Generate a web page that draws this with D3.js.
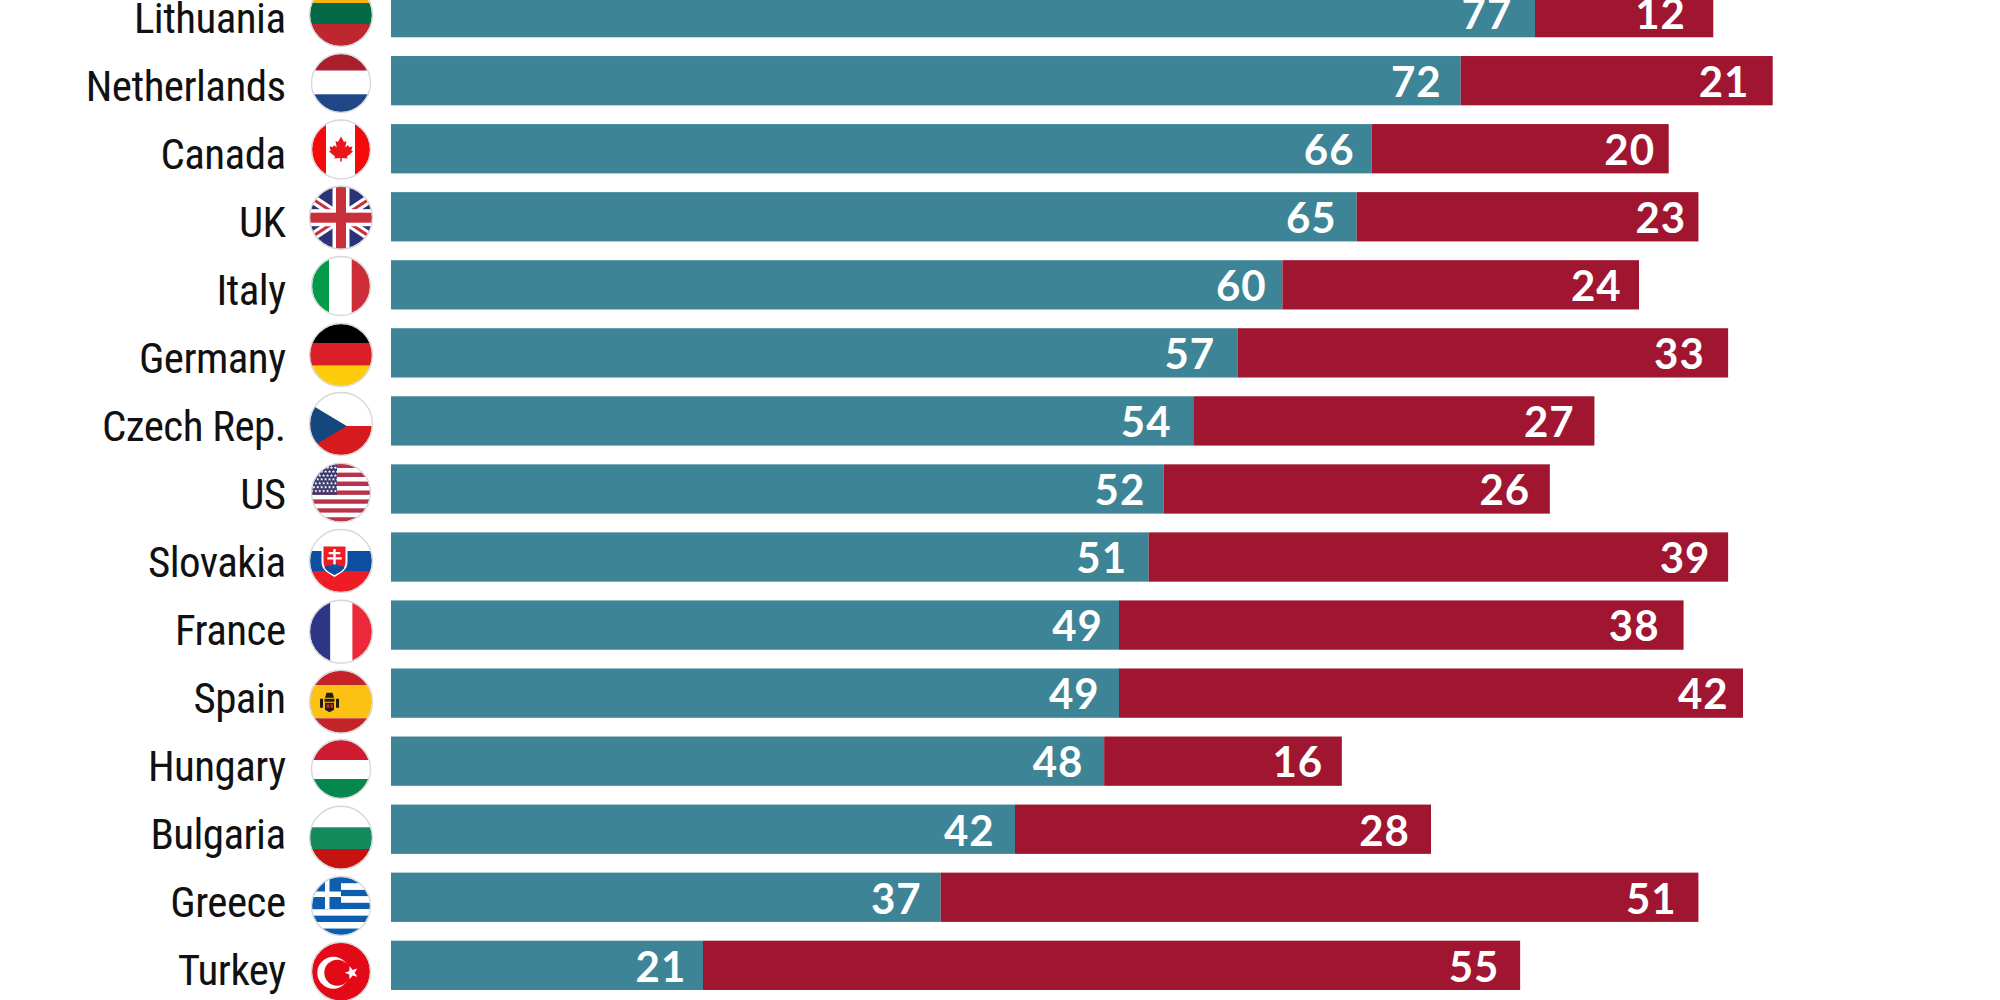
<!DOCTYPE html>
<html><head><meta charset="utf-8">
<style>
html,body{margin:0;padding:0;background:#fff;overflow:hidden}
svg{display:block}
.cat text{font-family:"Liberation Sans Narrow","Roboto Condensed","Liberation Sans",sans-serif;font-size:43px;fill:#111;letter-spacing:-0.55px}
.val{font-family:Lato,sans-serif;font-weight:700;font-size:42px;letter-spacing:1px;fill:#fff;text-anchor:end}
</style>
<script src="https://cdn.jsdelivr.net/npm/d3@7"></script>
</head><body><svg id="c" width="2000" height="1000"></svg>
<script>
// ---- data ----
const categories = ["Lithuania","Netherlands","Canada","UK","Italy","Germany","Czech Rep.","US","Slovakia","France","Spain","Hungary","Bulgaria","Greece","Turkey"];
const favourable = [77,72,66,65,60,57,54,52,51,49,49,48,42,37,21];
const unfavourable = [12,21,20,23,24,33,27,26,39,38,42,16,28,51,55];
const seriesKeys = ["favourable","unfavourable"];
const seriesColours = ["#3D8596","#A01631"];

// ---- layout ----
const svg = d3.select("#c");
const rows = categories.map((c,i)=>({country:c,favourable:favourable[i],unfavourable:unfavourable[i]}));
const x = d3.scaleLinear().domain([0,100]).range([391,391+1485.7]);
const y = d3.scaleBand().domain(categories).range([-21.4,-21.4+15*68.05]).paddingInner(0.2755).paddingOuter(0.1378);
const colour = d3.scaleOrdinal(seriesKeys,seriesColours);
const stacked = d3.stack().keys(seriesKeys)(rows);

// hand-placed label insets: gap between each value label and the end of its segment
const labelInsets = {
  favourable:[23.7,20,18,21,16.7,23.7,22.7,19.3,22.7,17,20.3,21.7,21.3,20,17.7],
  unfavourable:[28.3,24.3,14.7,13.3,18.3,24.3,20.7,20.7,18.7,25,15.3,19.7,22,22.7,21.7]
};
const glyphBearing = 1;

const groups = svg.selectAll("g.series").data(stacked).join("g").attr("class","series").attr("fill",d=>colour(d.key));
groups.selectAll("rect").data(d=>d).join("rect")
  .attr("x",d=>x(d[0])).attr("width",d=>x(d[1])-x(d[0]))
  .attr("y",d=>y(d.data.country)).attr("height",y.bandwidth());
groups.each(function(s){
  d3.select(this).selectAll("text").data(s).join("text").attr("class","val")
    .attr("x",(d,i)=>x(d[1])-labelInsets[s.key][i]+glyphBearing)
    .attr("y",d=>y(d.data.country)+y.bandwidth()/2+16.3)
    .text(d=>d[1]-d[0]);
});

// category labels through a D3 axis
const axis = d3.axisLeft(y).tickSize(0).tickPadding(0);
const ax = svg.append("g").attr("class","cat").attr("transform","translate(285.5,0)").call(axis);
ax.select(".domain").remove();
ax.selectAll("text").attr("dy",null).attr("y",20).attr("x",0);

// ---- flags (pictograms, drawn in local coordinates around the circle centre) ----
const defs = svg.append("defs");
const flagX = 341;
const flagCentres = {Lithuania:15,Netherlands:83,Canada:149.5,UK:217.7,Italy:286,Germany:355,"Czech Rep.":424,US:492.7,Slovakia:561,France:631.7,Spain:701.7,Hungary:769,Bulgaria:837.7,Greece:906,Turkey:971.7};
const flagRadii = {Lithuania:31,Netherlands:29,Canada:29,UK:31,Italy:29,Germany:31,"Czech Rep.":31,US:29,Slovakia:31,France:31,Spain:31,Hungary:29,Bulgaria:31,Greece:29,Turkey:29};
const R = 34;
function hs(g,bands){bands.forEach(([a,b,c])=>g.append("rect").attr("x",-R).attr("width",2*R).attr("y",a).attr("height",b-a).attr("fill",c));}
function vs(g,bands){bands.forEach(([a,b,c])=>g.append("rect").attr("y",-R).attr("height",2*R).attr("x",a).attr("width",b-a).attr("fill",c));}
function star(r,n=5,k=0.42){let s="";for(let i=0;i<2*n;i++){const a=-Math.PI/2+i*Math.PI/n,q=i%2?r*k:r;s+=(i?"L":"M")+(q*Math.cos(a)).toFixed(2)+","+(q*Math.sin(a)).toFixed(2);}return s+"Z";}
const draw = {
  Lithuania:g=>hs(g,[[-R,-12,"#F5B50F"],[-12,9,"#046A45"],[9,R,"#BE2730"]]),
  Netherlands:g=>hs(g,[[-R,-12.3,"#A91F2E"],[-12.3,11.3,"#fff"],[11.3,R,"#1F4788"]]),
  Canada:g=>{vs(g,[[-R,-15,"#F40A0A"],[-15,14,"#fff"],[14,R,"#F40A0A"]]);
    g.append("path").attr("fill","#E9171C").attr("d","M0,-13 L3,-7.5 L5.5,-8.5 L4.3,-2 L7,-4.5 L8,-2.5 L11.5,-3 L10.3,1 L12,2 L6,7 L6.6,9 L0.8,8.4 L0.8,12 L-0.8,12 L-0.8,8.4 L-6.6,9 L-6,7 L-12,2 L-10.3,1 L-11.5,-3 L-8,-2.5 L-7,-4.5 L-4.3,-2 L-5.5,-8.5 L-3,-7.5Z");},
  UK:g=>{hs(g,[[-R,R,"#2A3377"]]);
    [[-R,-R*0.66,R,R*0.66],[-R,R*0.66,R,-R*0.66]].forEach(([a,b,c,d])=>{
      g.append("line").attr("x1",a).attr("y1",b).attr("x2",c).attr("y2",d).attr("stroke","#fff").attr("stroke-width",9);
      g.append("line").attr("x1",a).attr("y1",b).attr("x2",c).attr("y2",d).attr("stroke","#C8303C").attr("stroke-width",3);});
    g.append("rect").attr("x",-R).attr("width",2*R).attr("y",-8.5).attr("height",17).attr("fill","#fff");
    g.append("rect").attr("y",-R).attr("height",2*R).attr("x",-8.5).attr("width",17).attr("fill","#fff");
    g.append("rect").attr("x",-R).attr("width",2*R).attr("y",-5).attr("height",10).attr("fill","#C8303C");
    g.append("rect").attr("y",-R).attr("height",2*R).attr("x",-5).attr("width",10).attr("fill","#C8303C");},
  Italy:g=>vs(g,[[-R,-12,"#049A4C"],[-12,10.7,"#fff"],[10.7,R,"#CC2D37"]]),
  Germany:g=>hs(g,[[-R,-12,"#000"],[-12,10.7,"#DA1F26"],[10.7,R,"#FECC0A"]]),
  "Czech Rep.":g=>{hs(g,[[-R,2,"#fff"],[2,R,"#D71A1D"]]);
    g.append("path").attr("fill","#13477D").attr("d","M-31,-20 L5.7,2 L-31,24 L-34,24 L-34,-20Z");},
  US:g=>{const h=58/13;for(let i=0;i<15;i++)g.append("rect").attr("x",-R).attr("width",2*R).attr("y",-29-h+i*h).attr("height",h).attr("fill",i%2?"#B8334A":"#fff");
    g.append("rect").attr("x",-R).attr("width",R-4).attr("y",-R).attr("height",R+2).attr("fill","#3C3B6E");
    for(let r=0;r<7;r++)for(let c=0;c<7;c++)g.append("path").attr("d",star(1.7)).attr("fill","#fff").attr("transform",`translate(${-29+c*3.9+(r%2?1.9:0)},${-25+r*3.9})`);},
  Slovakia:g=>{hs(g,[[-R,-10,"#fff"],[-10,10,"#0B4EA2"],[10,R,"#EE1C25"]]);
    g.append("path").attr("d","M-19.5,-16 H6.5 V1 C6.5,9 0,12 -6.5,16 C-13,12 -19.5,9 -19.5,1Z").attr("fill","#fff");
    g.append("path").attr("d","M-17.5,-14.5 H4.5 V1 C4.5,8 -1,11 -6.5,14 C-12,11 -17.5,8 -17.5,1Z").attr("fill","#EE1C25");
    g.append("path").attr("d","M-16.5,7 C-14,3 -12,6 -10,5 C-8,1 -5,1 -3,5 C-1,6 1,3 3.5,7 C1,10 -3,12 -6.5,14 C-10,12 -14,10 -16.5,7Z").attr("fill","#0B4EA2");
    g.append("path").attr("fill","#fff").attr("d","M-7.7,-12 h2.4 v3 h4.6 v2.2 h-4.6 v3 h6 v2.2 h-6 v5 h-2.4 v-5 h-6 v-2.2 h6 v-3 h-4.6 v-2.2 h4.6Z");},
  France:g=>vs(g,[[-R,-10.6,"#2D3585"],[-10.6,11.4,"#fff"],[11.4,R,"#EC293B"]]),
  Spain:g=>{hs(g,[[-R,-16.7,"#C4232A"],[-16.7,16.6,"#FBC213"],[16.6,R,"#C4232A"]]);
    g.append("path").attr("fill","#2A1A14").attr("d","M-21,-3 h3 v9 h-3Z M-5,-3 h3 v9 h-3Z M-16.5,-3 h10 v3 h-10Z M-16,1 h9 v7 l-4.5,2.5 l-4.5,-2.5Z M-14.5,-9 h6 l1.5,5 h-9Z");
    g.append("path").attr("fill","#B5312A").attr("d","M-14.5,2.5 h3 v3.5 h-3Z M-10.5,2.5 h2.5 v3.5 h-2.5Z");},
  Hungary:g=>hs(g,[[-R,-9,"#CE1B31"],[-9,10,"#fff"],[10,R,"#06874E"]]),
  Bulgaria:g=>hs(g,[[-R,-10.4,"#fff"],[-10.4,11.3,"#128A5B"],[11.3,R,"#C7130F"]]),
  Greece:g=>{const h=58/9;for(let i=0;i<11;i++)g.append("rect").attr("x",-R).attr("width",2*R).attr("y",-29-h+i*h).attr("height",h).attr("fill",i%2?"#0D5EAF":"#fff");
    g.append("rect").attr("x",-R).attr("width",R).attr("y",-R).attr("height",R+3.2).attr("fill","#0D5EAF");
    g.append("rect").attr("x",-R).attr("width",R).attr("y",-14.5).attr("height",5.5).attr("fill","#fff");
    g.append("rect").attr("x",-16).attr("width",4.5).attr("y",-R).attr("height",R+3.2).attr("fill","#fff");},
  Turkey:g=>{hs(g,[[-R,R,"#E30A17"]]);
    g.append("circle").attr("cx",-7.7).attr("cy",1).attr("r",16).attr("fill","#fff");
    g.append("circle").attr("cx",-3.7).attr("cy",1).attr("r",13).attr("fill","#E30A17");
    g.append("path").attr("d",star(7)).attr("fill","#fff").attr("transform","translate(10.7,1) rotate(-90)");}
};
categories.forEach((c,i)=>{
  const r=flagRadii[c];
  defs.append("clipPath").attr("id","f"+i).append("circle").attr("r",r);
  const g=svg.append("g").attr("class","flag").attr("transform",`translate(${flagX},${flagCentres[c]})`);
  draw[c](g.append("g").attr("clip-path",`url(#f${i})`));
  g.append("circle").attr("r",r+0.5).attr("fill","none").attr("stroke","#d8d8d8").attr("stroke-width",1.4);
});
</script></body></html>
